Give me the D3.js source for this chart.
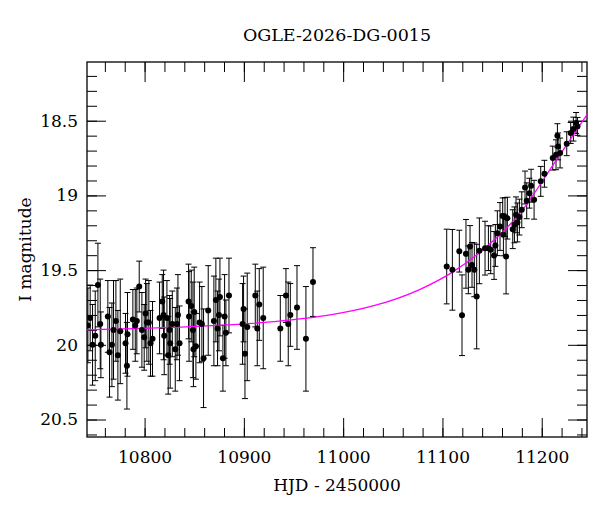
<html>
<head>
<script src="https://d3js.org/d3.v7.min.js"></script>
<style>
  body { margin: 0; background: #fff; }
  text { font-family: "DejaVu Serif", serif; fill: #000; }
</style>
</head>
<body>
<svg width="600" height="512"></svg>

<script>
// photometry
var hjd = [10742.9, 10745.2, 10747.6, 10750.3, 10753.0, 10755.3, 10756.0, 10763.0, 10764.7, 10767.1,
           10768.7, 10771.1, 10773.1, 10775.5, 10780.8, 10782.2, 10782.8, 10788.2, 10790.6, 10792.2,
           10794.6, 10797.3, 10799.6, 10801.0, 10802.3, 10804.3, 10806.0, 10808.0, 10815.1, 10817.8,
           10819.1, 10819.8, 10822.5, 10823.8, 10825.2, 10825.8, 10827.9, 10830.9, 10832.6, 10833.6,
           10835.2, 10844.3, 10844.8, 10847.0, 10848.7, 10849.2, 10850.0, 10851.7, 10855.4, 10857.7,
           10859.4, 10864.1, 10869.8, 10871.8, 10873.5, 10874.9, 10875.9, 10878.9, 10880.6, 10881.9,
           10885.0, 10898.7, 10899.7, 10901.1, 10903.4, 10911.5, 10913.5, 10915.5, 10919.5, 10936.7,
           10942.4, 10944.7, 10946.8, 10953.5, 10962.5, 10969.6,
           11104.3, 11110.0, 11117.0, 11119.7, 11123.7, 11126.1, 11127.8, 11129.8, 11132.1, 11134.5,
           11137.2, 11142.9, 11146.3, 11148.6, 11152.0, 11153.3, 11155.3, 11158.0, 11160.7, 11161.4,
           11163.0, 11164.1, 11165.4, 11170.8, 11172.5, 11174.1, 11175.5, 11177.5, 11179.9, 11183.2,
           11184.9, 11187.6, 11189.3, 11192.3, 11199.0, 11202.7, 11211.1, 11214.4, 11215.8, 11216.5,
           11218.5, 11225.2, 11229.2, 11231.9, 11234.6, 11236.0];
var mag = [19.87, 19.82, 20.00, 19.94, 19.60, 19.86, 20.00, 19.81, 20.05, 20.00,
           19.90, 19.84, 20.07, 19.91, 19.99, 20.14, 19.93, 19.83, 19.87, 19.84,
           19.61, 19.90, 19.95, 19.79, 19.85, 19.85, 19.99, 19.96, 19.82, 19.71,
           19.80, 19.94, 19.82, 20.07, 19.90, 19.99, 19.86, 20.03, 19.86, 19.80,
           19.99, 19.71, 19.81, 19.74, 19.90, 20.03, 19.78, 20.01, 19.85, 19.86,
           20.09, 19.77, 19.84, 19.70, 19.89, 19.80, 19.68, 20.09, 19.81, 19.92,
           19.67, 19.86, 19.76, 20.06, 19.88, 19.67, 19.89, 19.73, 19.82, 19.89,
           19.67, 19.86, 19.80, 19.75, 19.96, 19.58,
           19.476, 19.498, 19.373, 19.802, 19.391, 19.498, 19.342, 19.465, 19.498, 19.677,
           19.371, 19.353, 19.353, 19.364, 19.402, 19.335, 19.253, 19.208, 19.137, 19.264,
           19.145, 19.409, 19.152, 19.226, 19.197, 19.130, 19.181, 19.145, 19.096, 18.947,
           19.036, 18.985, 18.935, 19.029, 18.906, 18.855, 18.750, 18.728, 18.600, 18.672,
           18.716, 18.654, 18.582, 18.556, 18.515, 18.538];
var err = [0.25, 0.22, 0.27, 0.30, 0.28, 0.30, 0.22, 0.24, 0.30, 0.28,
           0.33, 0.27, 0.30, 0.35, 0.20, 0.29, 0.28, 0.20, 0.24, 0.22,
           0.17, 0.25, 0.22, 0.23, 0.26, 0.28, 0.22, 0.25, 0.24, 0.18,
           0.30, 0.26, 0.25, 0.26, 0.23, 0.30, 0.22, 0.28, 0.24, 0.27,
           0.25, 0.25, 0.30, 0.24, 0.32, 0.25, 0.30, 0.22, 0.27, 0.25,
           0.33, 0.30, 0.30, 0.28, 0.25, 0.24, 0.26, 0.22, 0.28, 0.22,
           0.25, 0.27, 0.22, 0.30, 0.36, 0.21, 0.25, 0.24, 0.34, 0.22,
           0.18, 0.28, 0.21, 0.28, 0.35, 0.23,
           0.25, 0.27, 0.14, 0.27, 0.23, 0.16, 0.14, 0.15, 0.18, 0.35,
           0.22, 0.18, 0.15, 0.16, 0.16, 0.14, 0.15, 0.16, 0.12, 0.14,
           0.13, 0.25, 0.14, 0.13, 0.12, 0.12, 0.13, 0.12, 0.12, 0.11,
           0.12, 0.10, 0.11, 0.13, 0.10, 0.09, 0.08, 0.10, 0.08, 0.09,
           0.10, 0.08, 0.07, 0.08, 0.07, 0.06];

// model curve, sampled off the magenta line
var modelHjd = [10742, 10770, 10800, 10868, 10930, 10987, 11030, 11077, 11111, 11145, 11178, 11212, 11246];
var modelMag = [19.90, 19.895, 19.89, 19.872, 19.845, 19.80, 19.74, 19.63, 19.51, 19.34, 19.12, 18.79, 18.455];

var title = 'OGLE-2026-DG-0015';
var xTitle = 'HJD - 2450000';
var yTitle = 'I magnitude';
var xMajor = [10800, 10900, 11000, 11100, 11200];
var yMajor = [18.5, 19, 19.5, 20, 20.5];

var m = {l: 87, r: 587, t: 62, b: 437};
var svg = d3.select('svg');

var x = d3.scaleLinear().domain([10742, 11245.6]).range([m.l, m.r]);
var y = d3.scaleLinear().domain([18.107, 20.617]).range([m.t, m.b]);

var xMinor = d3.range(10760, 11245, 20);
var yMinor = d3.range(18.2, 20.61, 0.1).map(function(v){ return +v.toFixed(1); });

function styleAxis(g) {
  g.select('.domain').remove();
  g.selectAll('line').attr('stroke', '#000').attr('stroke-width', 1);
  g.selectAll('text').attr('font-size', 17).attr('font-family', 'DejaVu Serif').attr('fill', '#000');
}

// bottom
svg.append('g').attr('transform', 'translate(0,' + m.b + ')')
  .call(d3.axisBottom(x).tickValues(xMinor).tickSize(-9).tickFormat(''))
  .call(styleAxis);
svg.append('g').attr('transform', 'translate(0,' + m.b + ')')
  .call(d3.axisBottom(x).tickValues(xMajor).tickSize(-19).tickPadding(14).tickFormat(d3.format('d')))
  .call(styleAxis);
// top
svg.append('g').attr('transform', 'translate(0,' + m.t + ')')
  .call(d3.axisTop(x).tickValues(xMinor).tickSize(-10).tickFormat(''))
  .call(styleAxis);
svg.append('g').attr('transform', 'translate(0,' + m.t + ')')
  .call(d3.axisTop(x).tickValues(xMajor).tickSize(-20).tickFormat(''))
  .call(styleAxis);
// left
svg.append('g').attr('transform', 'translate(' + m.l + ',0)')
  .call(d3.axisLeft(y).tickValues(yMinor).tickSize(-10).tickFormat(''))
  .call(styleAxis);
svg.append('g').attr('transform', 'translate(' + m.l + ',0)')
  .call(d3.axisLeft(y).tickValues(yMajor).tickSize(-19).tickPadding(9).tickFormat(function(d){ return String(d); }))
  .call(styleAxis);
// right
svg.append('g').attr('transform', 'translate(' + m.r + ',0)')
  .call(d3.axisRight(y).tickValues(yMinor).tickSize(-10).tickFormat(''))
  .call(styleAxis);
svg.append('g').attr('transform', 'translate(' + m.r + ',0)')
  .call(d3.axisRight(y).tickValues(yMajor).tickSize(-19).tickFormat(''))
  .call(styleAxis);

svg.append('rect')
  .attr('x', m.l).attr('y', m.t)
  .attr('width', m.r - m.l).attr('height', m.b - m.t)
  .attr('fill', 'none').attr('stroke', '#000').attr('stroke-width', 1.3);

svg.append('clipPath').attr('id', 'clip')
  .append('rect').attr('x', m.l).attr('y', m.t)
  .attr('width', m.r - m.l).attr('height', m.b - m.t);

var plot = svg.append('g').attr('clip-path', 'url(#clip)');

var pts = hjd.map(function(t, i){ return {t: t, m: mag[i], e: err[i]}; });

// error bars
var eb = plot.append('g').attr('stroke', '#000').attr('stroke-width', 1)
  .selectAll('g').data(pts).enter().append('g');
eb.append('line')
  .attr('x1', function(d){ return x(d.t); }).attr('x2', function(d){ return x(d.t); })
  .attr('y1', function(d){ return y(d.m - d.e); }).attr('y2', function(d){ return y(d.m + d.e); });
eb.append('line')
  .attr('x1', function(d){ return x(d.t) - 3; }).attr('x2', function(d){ return x(d.t) + 3; })
  .attr('y1', function(d){ return y(d.m - d.e); }).attr('y2', function(d){ return y(d.m - d.e); });
eb.append('line')
  .attr('x1', function(d){ return x(d.t) - 3; }).attr('x2', function(d){ return x(d.t) + 3; })
  .attr('y1', function(d){ return y(d.m + d.e); }).attr('y2', function(d){ return y(d.m + d.e); });

// model
var model = modelHjd.map(function(t, i){ return [t, modelMag[i]]; });
plot.append('path').datum(model)
  .attr('fill', 'none').attr('stroke', '#ff00ff').attr('stroke-width', 1.3)
  .attr('d', d3.line().x(function(d){ return x(d[0]); }).y(function(d){ return y(d[1]); })
    .curve(d3.curveMonotoneX));

// points
plot.append('g').selectAll('circle').data(pts).enter().append('circle')
  .attr('cx', function(d){ return x(d.t); })
  .attr('cy', function(d){ return y(d.m); })
  .attr('r', 3).attr('fill', '#000');

// titles
svg.append('text').attr('x', (m.l + m.r) / 2).attr('y', 41)
  .attr('text-anchor', 'middle').attr('font-size', 17.5).text(title);
svg.append('text').attr('x', (m.l + m.r) / 2).attr('y', 491)
  .attr('text-anchor', 'middle').attr('font-size', 17).text(xTitle);
svg.append('text').attr('transform', 'translate(31,' + (m.t + m.b) / 2 + ') rotate(-90)')
  .attr('text-anchor', 'middle').attr('font-size', 17).text(yTitle);
</script>
</body>
</html>
